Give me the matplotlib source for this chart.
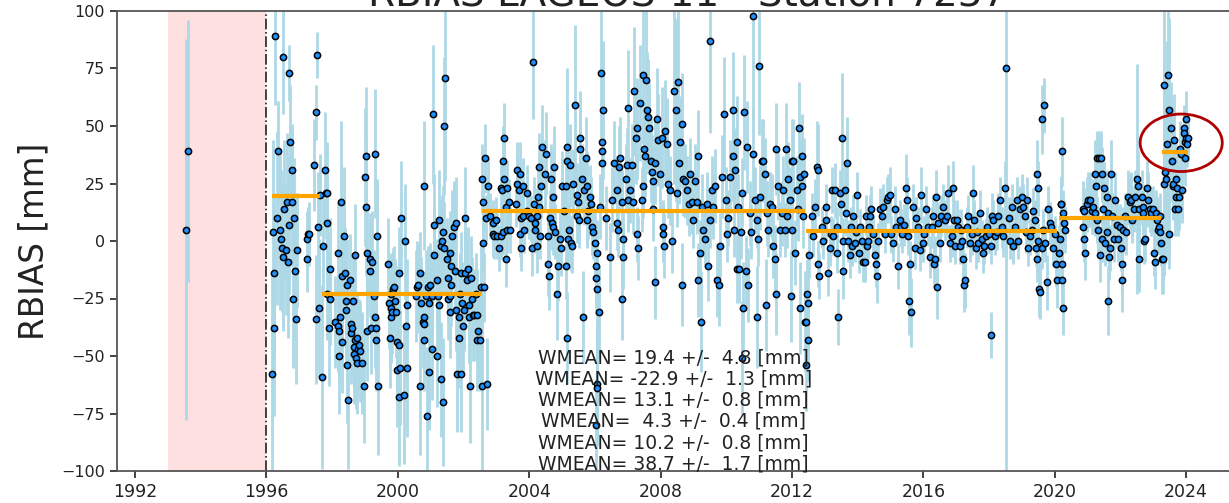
import numpy as np
import matplotlib.pyplot as plt
from matplotlib.patches import Ellipse

# (epoch [yr], RBIAS [mm], sigma [mm])
seg0 = [(1993.55, 5, 83), (1993.60, 39, 57)]

seg1 = [(1996.17, -58, 45), (1996.20, 4, 40), (1996.22, -14, 35), (1996.22, -38, 38),
        (1996.25, 89, 30), (1996.32, 10, 38), (1996.36, 39, 22), (1996.41, 5, 35),
        (1996.45, 1, 30), (1996.48, -3, 28), (1996.50, -7, 32), (1996.50, 80, 25),
        (1996.53, 14, 30), (1996.60, -4, 28), (1996.63, 17, 30), (1996.65, -9, 33),
        (1996.68, 73, 12), (1996.70, 7, 30), (1996.73, 43, 25), (1996.78, 17, 28),
        (1996.78, 31, 20), (1996.81, -25, 30), (1996.85, 10, 26), (1996.86, -13, 30),
        (1996.91, -34, 28), (1996.93, -4, 25), (1997.22, 1, 12), (1997.24, -8, 14),
        (1997.26, 3, 12), (1997.29, 3, 14), (1997.44, 33, 20), (1997.51, -34, 28),
        (1997.51, 56, 12), (1997.54, 81, 10), (1997.57, 6, 24), (1997.59, -29, 30),
        (1997.62, 20, 18)]

seg2 = [(1997.68, -59, 40), (1997.72, -2, 22), (1997.77, 31, 25), (1997.80, 21, 20),
        (1997.83, 8, 20), (1997.85, 21, 22), (1997.85, -23, 20), (1997.89, -38, 25),
        (1997.92, -25, 20), (1997.92, -12, 22), (1998.10, -35, 20), (1998.17, -5, 22),
        (1998.17, -37, 20), (1998.20, -50, 25), (1998.22, -39, 22), (1998.25, -33, 20),
        (1998.27, 17, 35), (1998.30, -44, 22), (1998.31, -15, 20), (1998.36, 2, 30),
        (1998.39, -14, 20), (1998.41, -26, 22), (1998.43, -30, 22), (1998.46, -19, 20),
        (1998.46, -54, 25), (1998.48, -69, 30), (1998.53, -17, 20), (1998.56, -36, 20),
        (1998.58, -40, 22), (1998.59, -38, 20), (1998.63, -26, 20), (1998.66, -49, 22),
        (1998.68, -46, 20), (1998.69, -6, 22), (1998.69, -43, 20), (1998.74, -51, 22),
        (1998.76, -42, 20), (1998.76, -53, 22), (1998.79, -47, 20), (1998.83, -45, 20),
        (1998.86, -48, 22), (1998.91, -53, 22), (1998.96, -63, 25), (1998.99, 28, 30),
        (1999.02, 15, 30), (1999.04, 37, 30), (1999.05, -39, 22), (1999.07, -5, 20),
        (1999.14, -8, 20), (1999.15, -13, 20), (1999.17, -38, 20), (1999.22, -9, 22),
        (1999.27, -24, 20), (1999.30, -33, 22), (1999.32, 38, 28), (1999.35, -38, 20),
        (1999.35, -43, 22), (1999.37, 2, 25), (1999.39, -63, 30), (1999.70, -10, 20),
        (1999.73, -27, 20), (1999.75, -42, 22), (1999.78, -23, 18), (1999.78, -33, 20),
        (1999.80, -29, 18), (1999.83, -31, 18), (1999.85, -21, 18), (1999.88, -20, 18),
        (1999.90, -26, 18), (1999.95, -31, 20), (1999.96, -56, 25), (1999.98, -44, 22),
        (2000.03, -14, 20), (2000.05, -45, 22), (2000.05, -68, 30), (2000.08, -55, 25),
        (2000.11, 10, 25), (2000.20, -67, 30), (2000.23, 0, 25), (2000.26, -37, 22),
        (2000.28, -28, 20), (2000.28, -55, 30), (2000.54, -24, 20), (2000.57, -20, 20),
        (2000.62, -19, 18), (2000.69, -14, 18), (2000.69, -63, 30), (2000.71, -27, 20),
        (2000.76, -35, 20), (2000.79, -36, 20), (2000.79, -43, 22), (2000.81, 24, 28),
        (2000.81, -33, 20), (2000.86, -24, 20), (2000.89, -76, 30), (2000.91, -20, 18),
        (2000.94, -57, 25), (2000.95, -27, 20), (2000.99, -19, 18), (2001.05, -24, 20),
        (2001.05, -47, 22), (2001.08, 55, 30), (2001.10, -6, 20), (2001.10, 7, 22),
        (2001.18, -17, 18), (2001.20, -50, 22), (2001.22, -24, 20), (2001.25, 9, 22),
        (2001.25, -28, 20), (2001.30, -2, 20), (2001.30, -60, 25), (2001.33, 0, 20),
        (2001.38, 4, 20), (2001.38, -70, 28), (2001.40, 50, 30), (2001.42, -3, 20),
        (2001.45, 71, 45), (2001.50, -8, 18), (2001.52, -16, 18), (2001.53, -25, 18),
        (2001.58, -5, 18), (2001.60, -24, 18), (2001.60, -31, 20), (2001.62, -11, 18),
        (2001.63, -19, 18), (2001.65, 2, 20), (2001.71, 6, 20), (2001.74, -13, 18),
        (2001.76, 8, 20), (2001.78, -30, 18), (2001.81, -58, 25), (2001.86, -33, 20),
        (2001.86, -42, 22), (2001.88, -23, 18), (2001.91, -14, 18), (2001.93, -58, 25),
        (2001.96, -27, 18), (2001.99, -37, 20), (2002.01, -30, 18), (2002.04, 10, 22),
        (2002.06, -14, 18), (2002.11, -17, 18), (2002.14, -12, 18), (2002.16, -28, 18),
        (2002.18, -33, 20), (2002.21, -63, 25), (2002.24, -16, 18), (2002.26, -25, 18),
        (2002.29, -32, 20), (2002.31, -32, 20), (2002.37, -23, 18), (2002.40, -43, 22),
        (2002.42, -32, 20), (2002.45, -39, 20), (2002.50, -43, 22), (2002.52, -20, 18),
        (2002.57, -63, 40)]

seg3 = [(2002.55, 27, 15), (2002.58, -1, 12), (2002.60, 17, 12), (2002.62, -20, 15),
        (2002.65, 36, 15), (2002.68, 10, 10), (2002.72, -62, 20), (2002.75, 24, 12),
        (2002.80, 11, 10), (2002.89, 3, 10), (2002.90, 8, 10), (2002.93, 2, 10),
        (2002.99, 9, 10), (2003.03, 2, 10), (2003.08, -3, 10), (2003.13, 2, 10),
        (2003.13, 23, 12), (2003.16, 22, 12), (2003.21, 35, 15), (2003.21, 4, 10),
        (2003.23, 27, 14), (2003.24, 45, 15), (2003.28, -8, 12), (2003.29, 15, 10),
        (2003.31, 23, 12), (2003.31, 5, 10), (2003.39, 17, 10), (2003.43, 5, 10),
        (2003.60, 16, 10), (2003.62, 25, 12), (2003.64, 31, 12), (2003.70, 22, 12),
        (2003.72, 29, 14), (2003.72, 3, 10), (2003.74, 10, 10), (2003.74, -3, 10),
        (2003.80, 24, 12), (2003.82, 11, 10), (2003.85, 5, 10), (2003.92, 21, 12),
        (2003.92, 13, 10), (2003.98, 11, 10), (2004.04, 10, 10), (2004.07, -3, 12),
        (2004.12, 78, 25), (2004.15, 16, 12), (2004.18, 5, 10), (2004.18, 8, 10),
        (2004.23, 11, 12), (2004.23, -2, 12), (2004.28, 19, 12), (2004.29, 15, 12),
        (2004.31, 32, 15), (2004.33, 2, 10), (2004.35, 24, 14), (2004.40, 41, 18),
        (2004.48, 29, 15), (2004.50, 38, 18), (2004.58, 2, 12), (2004.58, -10, 14),
        (2004.61, -15, 15), (2004.63, 10, 12), (2004.66, 27, 15), (2004.68, 8, 12),
        (2004.71, 19, 14), (2004.73, 6, 12), (2004.75, 32, 18), (2004.78, 4, 12),
        (2004.86, -23, 20), (2004.89, -11, 15), (2004.94, 1, 12), (2004.96, -3, 12),
        (2004.99, 24, 15), (2005.05, 13, 12), (2005.12, 24, 15), (2005.12, -11, 14),
        (2005.14, 35, 40), (2005.14, -42, 20), (2005.16, 41, 20), (2005.19, 1, 12),
        (2005.22, 5, 12), (2005.24, 33, 18), (2005.26, -1, 12), (2005.29, -2, 12),
        (2005.32, 25, 15), (2005.39, 59, 35), (2005.44, 20, 14), (2005.44, 11, 12),
        (2005.50, 17, 12), (2005.53, 9, 12), (2005.55, 45, 20), (2005.55, 40, 18),
        (2005.60, 27, 15), (2005.63, -33, 20), (2005.67, 22, 15), (2005.73, 36, 18),
        (2005.75, 24, 15), (2005.75, 9, 12), (2005.80, 13, 12), (2005.85, 19, 14),
        (2005.88, 16, 12), (2005.90, 6, 12), (2005.95, 4, 12), (2006.00, -1, 14),
        (2006.03, -11, 15), (2006.03, -16, 16), (2006.03, -80, 20), (2006.05, -5, 14),
        (2006.05, -62, 25), (2006.07, -21, 18), (2006.07, -64, 25), (2006.12, -31, 20),
        (2006.16, 15, 14), (2006.18, 73, 30), (2006.21, 43, 20), (2006.21, 39, 20),
        (2006.21, 34, 18), (2006.26, 57, 30), (2006.35, 10, 14), (2006.46, -7, 15),
        (2006.52, 18, 14), (2006.58, 34, 18), (2006.66, 22, 15), (2006.66, 8, 12),
        (2006.71, 5, 12), (2006.74, 32, 18), (2006.76, 36, 18), (2006.81, 17, 14),
        (2006.81, -25, 18), (2006.85, 1, 12), (2006.87, -7, 14), (2006.94, 27, 15),
        (2006.97, 33, 16), (2007.02, 58, 25), (2007.02, 18, 14), (2007.07, 22, 14),
        (2007.12, 33, 18), (2007.17, 17, 14), (2007.19, 65, 28), (2007.24, 45, 20),
        (2007.27, 49, 22), (2007.29, 3, 12), (2007.32, -3, 14), (2007.37, 60, 25),
        (2007.42, 18, 14), (2007.45, 72, 30), (2007.47, 24, 14), (2007.50, 40, 20),
        (2007.53, 37, 18), (2007.56, 70, 30), (2007.58, 57, 25), (2007.63, 54, 25),
        (2007.66, 49, 20), (2007.70, 35, 18), (2007.73, 30, 16), (2007.76, 26, 15),
        (2007.78, 14, 14), (2007.83, -18, 16), (2007.83, 34, 18), (2007.88, 53, 22),
        (2007.93, 44, 20), (2007.98, 29, 16), (2008.03, 45, 22), (2008.06, 6, 12),
        (2008.08, 3, 12), (2008.11, -2, 14), (2008.14, 48, 22), (2008.19, 42, 20),
        (2008.24, 25, 15), (2008.29, 22, 15), (2008.34, 0, 14), (2008.42, 65, 40),
        (2008.46, 57, 40), (2008.49, 21, 15), (2008.52, 69, 35), (2008.57, 34, 18),
        (2008.59, 43, 20), (2008.64, 51, 22), (2008.66, -19, 18), (2008.69, 27, 16),
        (2008.74, 26, 16), (2008.79, 22, 15), (2008.85, 16, 14), (2008.90, 29, 16),
        (2008.95, 17, 14), (2009.00, 9, 12), (2009.05, 26, 16), (2009.10, 17, 14),
        (2009.15, 37, 20), (2009.15, -17, 16), (2009.20, -5, 14), (2009.23, -35, 22),
        (2009.25, 15, 14), (2009.30, 5, 12), (2009.35, 1, 12), (2009.40, 16, 14),
        (2009.45, -11, 15), (2009.50, 87, 40), (2009.50, 9, 12), (2009.56, 22, 15),
        (2009.61, 15, 14), (2009.66, 24, 16), (2009.73, -17, 16), (2009.79, -19, 18),
        (2009.81, -2, 14), (2009.86, 28, 18), (2009.94, 55, 25), (2009.98, 18, 14),
        (2010.01, 3, 12), (2010.06, 10, 12), (2010.11, 28, 16), (2010.19, 57, 25),
        (2010.19, 37, 20), (2010.22, 5, 12), (2010.27, 31, 18), (2010.32, -12, 15),
        (2010.34, 43, 20), (2010.37, 15, 14), (2010.40, -12, 15), (2010.44, 4, 12),
        (2010.47, 21, 15), (2010.47, -51, 25), (2010.52, -29, 20), (2010.55, 56, 25),
        (2010.60, -13, 15), (2010.62, 41, 20), (2010.67, -19, 16), (2010.72, 12, 14),
        (2010.76, 4, 12), (2010.80, 98, 45), (2010.82, 38, 20), (2010.88, 18, 14),
        (2010.93, 9, 12), (2010.95, -33, 22), (2010.98, 1, 12), (2011.01, 76, 30),
        (2011.03, 19, 14), (2011.08, 35, 18), (2011.13, 35, 18), (2011.18, 29, 16),
        (2011.21, -28, 20), (2011.23, 12, 14), (2011.28, 5, 12), (2011.33, 16, 14),
        (2011.38, 15, 14), (2011.43, -2, 14), (2011.49, -8, 15), (2011.50, 40, 20),
        (2011.52, -23, 18), (2011.57, 24, 15), (2011.64, 5, 12), (2011.69, 12, 14),
        (2011.74, 22, 15), (2011.79, 5, 12), (2011.83, 40, 20), (2011.84, 11, 14),
        (2011.89, 27, 16), (2011.94, 18, 14), (2011.97, -24, 20), (2011.99, 35, 18),
        (2012.00, 5, 12), (2012.04, 35, 18), (2012.09, -5, 14), (2012.14, 22, 15),
        (2012.18, 14, 14), (2012.22, 49, 20), (2012.25, 28, 16), (2012.25, -29, 20),
        (2012.29, 37, 18), (2012.30, 24, 15), (2012.35, 11, 14), (2012.38, 29, 16),
        (2012.40, -35, 22)]

seg4 = [(2012.45, -23, 15), (2012.43, -35, 18), (2012.48, -27, 15), (2012.50, -43, 18),
        (2012.44, -54, 20), (2012.52, -6, 10), (2012.62, 11, 10), (2012.65, 2, 9),
        (2012.70, 15, 12), (2012.75, 32, 20), (2012.78, 31, 20), (2012.80, -10, 10),
        (2012.83, -15, 10), (2012.90, 6, 9), (2012.93, 0, 8), (2013.03, 15, 10),
        (2013.05, 9, 9), (2013.10, -14, 10), (2013.15, -3, 8), (2013.20, 3, 8),
        (2013.22, 22, 10), (2013.25, 2, 8), (2013.30, 22, 12), (2013.36, 6, 9),
        (2013.38, -5, 9), (2013.41, -33, 12), (2013.46, 21, 10), (2013.49, 16, 12),
        (2013.51, 45, 28), (2013.54, -13, 12), (2013.56, 0, 10), (2013.61, 22, 12),
        (2013.64, 12, 10), (2013.66, 34, 20), (2013.71, 0, 9), (2013.76, -6, 10),
        (2013.79, 6, 9), (2013.83, -2, 9), (2013.86, 11, 9), (2013.91, -1, 8),
        (2013.94, 4, 8), (2013.99, 20, 10), (2014.04, -5, 9), (2014.07, 6, 8),
        (2014.12, 0, 8), (2014.17, -9, 9), (2014.22, -9, 9), (2014.25, 11, 9),
        (2014.29, -2, 8), (2014.32, 0, 8), (2014.35, 6, 8), (2014.37, 11, 9),
        (2014.42, 14, 10), (2014.47, 3, 8), (2014.52, -6, 9), (2014.55, -10, 10),
        (2014.60, -15, 12), (2014.62, 0, 8), (2014.68, 14, 9), (2014.73, 11, 9),
        (2014.78, 15, 10), (2014.83, 3, 8), (2014.88, 18, 10), (2014.93, 19, 10),
        (2014.98, 20, 12), (2015.01, 3, 8), (2015.08, -1, 8), (2015.13, 14, 10),
        (2015.18, 6, 8), (2015.23, -11, 10), (2015.28, 9, 9), (2015.31, 6, 8),
        (2015.36, 3, 8), (2015.41, 7, 9), (2015.47, 23, 15), (2015.51, 18, 10),
        (2015.54, 2, 8), (2015.57, -26, 15), (2015.59, -10, 10), (2015.62, -31, 15),
        (2015.69, 15, 10), (2015.74, -3, 9), (2015.79, 10, 9), (2015.84, 6, 9),
        (2015.89, -4, 9), (2015.94, 20, 12), (2015.98, -1, 8), (2016.03, 3, 8),
        (2016.08, 14, 10), (2016.13, 6, 8), (2016.20, -7, 9), (2016.25, 6, 9),
        (2016.28, 11, 9), (2016.32, -10, 10), (2016.35, -8, 10), (2016.38, 19, 12),
        (2016.40, -20, 14), (2016.45, 8, 9), (2016.50, -1, 8), (2016.55, 11, 9),
        (2016.60, 15, 10), (2016.66, 9, 9), (2016.71, 11, 10), (2016.76, 21, 12),
        (2016.81, -1, 8), (2016.86, 2, 9), (2016.89, 23, 12), (2016.93, 9, 9),
        (2016.96, -2, 8), (2017.01, 9, 9), (2017.06, 6, 8), (2017.11, -2, 8),
        (2017.16, 5, 9), (2017.19, 0, 8), (2017.21, -8, 9), (2017.24, -19, 12),
        (2017.27, -17, 12), (2017.32, 6, 9), (2017.37, 11, 9), (2017.42, -1, 8),
        (2017.47, 3, 9), (2017.50, 21, 12), (2017.55, 9, 9), (2017.59, -3, 9),
        (2017.62, 4, 8), (2017.67, -1, 8), (2017.72, 12, 10), (2017.77, 1, 8),
        (2017.82, -5, 9), (2017.86, -2, 8), (2017.90, 2, 8), (2017.94, 6, 9),
        (2018.01, 3, 8), (2018.05, -2, 8), (2018.06, -41, 10), (2018.09, 11, 10),
        (2018.13, 9, 9), (2018.18, 2, 8), (2018.23, 4, 8), (2018.28, 11, 10),
        (2018.33, 18, 10), (2018.38, 6, 9), (2018.43, 2, 9), (2018.48, 23, 12),
        (2018.53, 75, 180), (2018.60, 10, 9), (2018.63, 0, 8), (2018.69, 15, 10),
        (2018.74, -2, 8), (2018.79, 6, 9), (2018.84, 18, 10), (2018.89, 0, 8),
        (2018.94, 14, 10), (2018.99, 19, 10), (2019.04, 15, 10), (2019.09, 11, 9),
        (2019.12, 4, 9), (2019.16, 18, 10), (2019.19, -3, 8), (2019.24, 2, 8),
        (2019.30, 5, 9), (2019.35, 13, 10), (2019.40, 9, 9), (2019.43, -3, 8),
        (2019.45, -8, 10), (2019.45, 29, 15), (2019.48, 23, 12), (2019.50, 0, 8),
        (2019.53, -21, 12), (2019.55, -22, 12), (2019.60, 53, 15), (2019.60, -3, 9),
        (2019.65, 5, 9), (2019.68, 59, 12), (2019.70, -1, 8), (2019.75, -18, 12),
        (2019.80, 14, 10), (2019.85, 8, 9), (2019.90, 6, 9), (2019.95, -3, 8),
        (2020.00, 3, 8), (2020.04, -10, 10), (2020.06, -17, 12)]

seg5 = [(2020.14, -5, 12), (2020.16, 1, 10), (2020.18, 16, 12), (2020.19, 16, 12),
        (2020.21, -10, 12), (2020.21, -17, 14), (2020.23, 39, 15), (2020.24, 12, 10),
        (2020.26, -29, 12), (2020.29, 8, 10), (2020.31, 5, 10), (2020.85, 6, 10),
        (2020.87, 14, 12), (2020.89, 13, 10), (2020.90, 1, 10), (2020.92, -5, 12),
        (2020.97, 16, 12), (2021.02, 18, 12), (2021.07, 18, 12), (2021.12, 13, 10),
        (2021.17, 15, 12), (2021.22, 29, 15), (2021.22, 12, 10), (2021.26, 24, 12),
        (2021.28, 9, 10), (2021.30, 36, 12), (2021.33, 5, 10), (2021.36, 36, 12),
        (2021.38, -6, 12), (2021.41, 36, 12), (2021.43, 1, 10), (2021.45, 29, 12),
        (2021.48, 14, 10), (2021.50, 23, 12), (2021.53, -1, 10), (2021.58, 19, 12),
        (2021.60, 4, 10), (2021.62, -26, 15), (2021.63, 12, 10), (2021.65, -7, 10),
        (2021.68, -3, 10), (2021.72, 29, 15), (2021.75, 11, 10), (2021.79, 1, 10),
        (2021.84, 18, 12), (2021.89, 7, 10), (2021.94, 1, 10), (2021.99, 6, 10),
        (2022.02, -3, 10), (2022.06, -10, 12), (2022.06, -17, 14), (2022.09, 5, 10),
        (2022.13, 11, 10), (2022.18, 4, 10), (2022.24, 19, 12), (2022.28, 17, 12),
        (2022.31, 18, 12), (2022.36, 9, 10), (2022.40, 14, 10), (2022.45, 19, 12),
        (2022.50, 27, 50), (2022.52, 24, 15), (2022.55, -8, 14), (2022.58, 14, 10),
        (2022.65, 19, 12), (2022.68, 15, 10), (2022.70, 12, 10), (2022.73, 0, 10),
        (2022.76, 1, 10), (2022.80, 23, 12), (2022.85, 18, 12), (2022.90, 14, 10),
        (2022.94, 12, 10), (2022.98, 14, 10), (2023.02, -5, 10), (2023.04, -9, 12),
        (2023.08, 12, 10), (2023.11, 9, 10), (2023.14, 5, 10), (2023.17, 6, 10),
        (2023.19, 4, 10), (2023.21, 11, 10), (2023.23, -1, 10)]

seg6 = [(2023.28, -8, 15), (2023.31, -8, 15), (2023.33, 25, 40), (2023.34, 68, 45),
        (2023.36, 30, 40), (2023.38, 27, 35), (2023.41, 42, 45), (2023.46, 72, 50),
        (2023.48, 57, 40), (2023.49, 3, 15), (2023.54, 49, 20), (2023.58, 35, 18),
        (2023.59, 24, 15), (2023.61, 25, 15), (2023.63, 44, 20), (2023.65, 14, 12),
        (2023.68, 27, 18), (2023.70, 19, 14), (2023.73, 23, 14), (2023.76, 14, 12),
        (2023.78, 19, 14), (2023.82, 40, 12), (2023.84, 38, 12), (2023.86, 22, 14),
        (2023.92, 49, 10), (2023.94, 47, 10), (2023.96, 43, 10), (2023.98, 36, 12),
        (2023.99, 53, 12), (2024.01, 45, 10), (2024.04, 42, 10), (2024.07, 45, 10)]

WMEAN = [19.4, -22.9, 13.1, 4.3, 10.2, 38.7]
WSIG = [4.8, 1.3, 0.8, 0.4, 0.8, 1.7]

segments = [seg1, seg2, seg3, seg4, seg5, seg6]

W, H, DPI = 1229, 503, 100
fig = plt.figure(figsize=(W / DPI, H / DPI), dpi=DPI)
fig.patch.set_facecolor('white')
# axes run past the right edge (reference is a crop)
ax = fig.add_axes([117 / W, 32 / H, (1240 - 117) / W, 460 / H])

t_all, v_all, e_all = map(np.array, zip(*(seg0 + sum(segments, []))))

ax.axvspan(1993.0, 1996.0, color='red', alpha=0.12, lw=0, zorder=0)
ax.axvline(1996.0, color='#222222', ls='-.', lw=1.2, zorder=1)

ax.errorbar(t_all, v_all, yerr=e_all, fmt='none', ecolor='lightblue',
            elinewidth=2, capsize=0, zorder=2)
ax.plot(t_all, v_all, 'o', ms=4.5, mfc='dodgerblue', mec='black', mew=1.1,
        ls='none', zorder=3)

lines = []
for seg, m, s in zip(segments, WMEAN, WSIG):
    ts = np.array([p[0] for p in seg])
    ax.hlines(m, ts.min(), ts.max(), colors='orange', lw=3, zorder=4)
    lines.append('WMEAN= %4.1f +/- %4.1f [mm]' % (m, s))

ax.text(2008.4, -101, '\n'.join(lines), ha='center', va='bottom',
        multialignment='center', fontsize=13.5, color='#222222', zorder=6,
        linespacing=1.15)

# highlight of the last segment
ax.add_patch(Ellipse((2023.85, WMEAN[-1] + 4), 2.5, 25, fill=False,
                     edgecolor='#b00000', lw=2, zorder=7))

ax.set_xlim(1991.45, 2025.64)
ax.set_ylim(-100, 100)
ax.set_xticks(range(1992, 2025, 4))
ax.set_yticks(range(-100, 101, 25))
ax.tick_params(axis='x', labelsize=12.5, colors='#222222', length=5, width=1.2)
ax.tick_params(axis='y', labelsize=11.5, colors='#222222', length=5, width=1.2)
for sp in ['left', 'bottom', 'top']:
    ax.spines[sp].set_color('#555555')
    ax.spines[sp].set_linewidth(1.3)
ax.spines['right'].set_visible(False)

ax.set_ylabel('RBIAS [mm]', fontsize=23.5, color='#222222', labelpad=8)

# title sits mostly above the top edge, as in the cropped reference
fig.text(688 / W, 1 - 5 / H, 'RBIAS LAGEOS-11 - Station 7237', ha='center',
         va='baseline', fontsize=28, color='#222222')

fig.savefig('out.png', dpi=DPI)
